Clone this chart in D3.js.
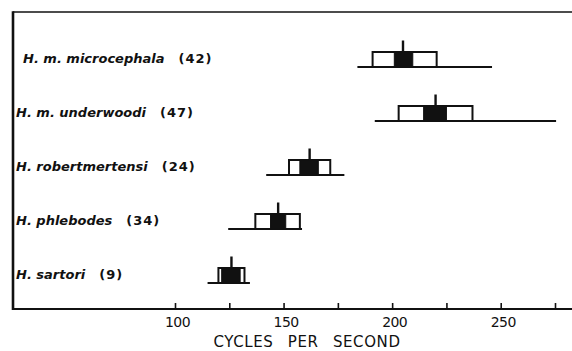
<!DOCTYPE html>
<html>
<head>
<meta charset="utf-8">
<script src="https://cdn.jsdelivr.net/npm/d3@7/dist/d3.min.js"></script>
<style>
  html, body { margin: 0; padding: 0; background: #fff; }
  svg { display: block; }
</style>
</head>
<body>
<svg id="chart" width="572" height="351"></svg>
<script>
// ---- data ----
const species   = ["H. m. microcephala", "H. m. underwoodi", "H. robertmertensi", "H. phlebodes", "H. sartori"];
const sampleN   = [42, 47, 24, 34, 9];
const means     = [205, 220, 162, 147.5, 126];
const rangeMin  = [184, 192, 142, 124.5, 115];
const rangeMax  = [246, 275.5, 178, 158.5, 134.5];
const sdLow     = [191, 203, 152.5, 137, 120];
const sdHigh    = [220.5, 237, 171.5, 157.5, 132];
const seLow     = [201, 214.5, 157.5, 144, 121.5];
const seHigh    = [209.5, 225, 166, 151, 130];
const tickValues = [100, 125, 150, 175, 200, 225, 250, 275];
const tickLabels = ["100", "", "150", "", "200", "", "250", ""];
const axisTitle = "CYCLES PER SECOND";

const rows = species.map((s, i) => ({
  name: s, n: sampleN[i], mean: means[i],
  min: rangeMin[i], max: rangeMax[i],
  sdLo: sdLow[i], sdHi: sdHigh[i],
  seLo: seLow[i], seHi: seHigh[i]
}));

const svg = d3.select("#chart");
const ink = "#111";

const x = d3.scaleLinear().domain([100, 275]).range([175, 555]);
const y = d3.scalePoint().domain(species).range([67, 283]);

const frameLeft = 13, frameTop = 12, axisY = 309;

// frame
svg.append("line").attr("x1", frameLeft).attr("x2", 572).attr("y1", frameTop).attr("y2", frameTop)
  .attr("stroke", ink).attr("stroke-width", 1.6);
svg.append("line").attr("x1", frameLeft).attr("x2", frameLeft).attr("y1", frameTop - 0.8).attr("y2", axisY + 1)
  .attr("stroke", ink).attr("stroke-width", 2.6);
svg.append("line").attr("x1", frameLeft - 1).attr("x2", 572).attr("y1", axisY).attr("y2", axisY)
  .attr("stroke", ink).attr("stroke-width", 2);

// axis
const axis = d3.axisBottom(x)
  .tickValues(tickValues)
  .tickFormat((d, i) => tickLabels[i])
  .tickSizeInner(-6)
  .tickSizeOuter(0)
  .tickPadding(8);
const gAxis = svg.append("g").attr("transform", `translate(0,${axisY})`).call(axis);
gAxis.select(".domain").remove();
gAxis.selectAll(".tick line").attr("stroke", ink).attr("stroke-width", 1.6);
gAxis.selectAll(".tick text")
  .attr("fill", ink)
  .attr("font-family", "'DejaVu Sans', sans-serif")
  .attr("font-size", 14)
  .attr("letter-spacing", "-0.6px")
  .attr("dx", 2);

svg.append("text")
  .attr("x", 307).attr("y", 347)
  .attr("text-anchor", "middle")
  .attr("font-family", "'DejaVu Sans', sans-serif")
  .attr("font-size", 15)
  .attr("letter-spacing", "0.6px")
  .attr("word-spacing", "9px")
  .attr("fill", ink)
  .text(axisTitle);

// Dice-Leraas elements
const boxH = 15, meanH = 11.5;
const g = svg.append("g");
const row = g.selectAll("g.row").data(rows).join("g").attr("class", "row");

row.append("line")
  .attr("x1", d => x(d.min)).attr("x2", d => x(d.max))
  .attr("y1", d => y(d.name)).attr("y2", d => y(d.name))
  .attr("stroke", ink).attr("stroke-width", 2);

row.append("rect")
  .attr("x", d => x(d.sdLo)).attr("width", d => x(d.sdHi) - x(d.sdLo))
  .attr("y", d => y(d.name) - boxH).attr("height", boxH)
  .attr("fill", "#fff").attr("stroke", ink).attr("stroke-width", 2);

row.append("rect")
  .attr("x", d => x(d.seLo)).attr("width", d => x(d.seHi) - x(d.seLo))
  .attr("y", d => y(d.name) - boxH).attr("height", boxH)
  .attr("fill", ink).attr("stroke", ink).attr("stroke-width", 1);

row.append("line")
  .attr("x1", d => x(d.mean)).attr("x2", d => x(d.mean))
  .attr("y1", d => y(d.name) - boxH).attr("y2", d => y(d.name) - boxH - meanH)
  .attr("stroke", ink).attr("stroke-width", 2.4);

// labels
const lab = row.append("text")
  .attr("x", (d, i) => i === 0 ? 23 : 16)
  .attr("y", d => y(d.name) - 4)
  .attr("font-family", "'DejaVu Sans', sans-serif")
  .attr("font-size", 13)
  .attr("font-weight", "bold")
  .attr("fill", ink);
lab.append("tspan")
  .attr("font-style", "italic")
  .text(d => d.name);
lab.append("tspan")
  .attr("dx", 14)
  .attr("letter-spacing", "1px")
  .text(d => `(${d.n})`);
</script>
</body>
</html>
